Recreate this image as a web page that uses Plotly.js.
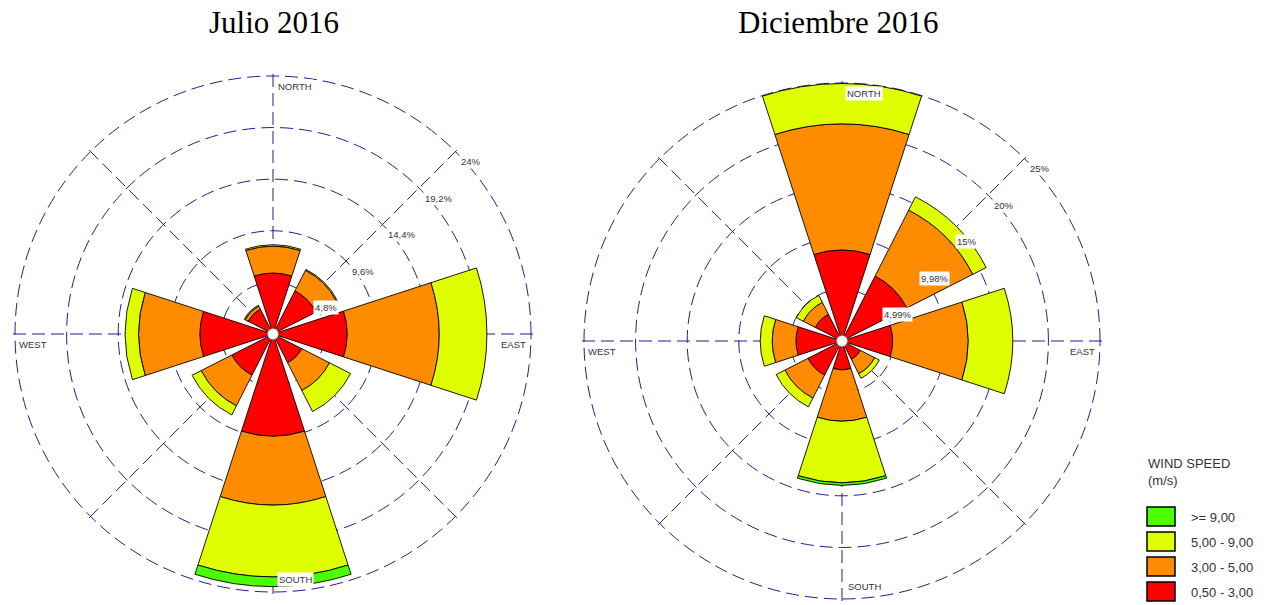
<!DOCTYPE html>
<html>
<head>
<meta charset="utf-8">
<script src="https://cdn.plot.ly/plotly-3.0.1.min.js"></script>
<style>html,body{margin:0;padding:0;background:#fff;}#chart{width:1267px;height:605px;}</style>
</head>
<body>
<div id="chart"></div>
<script>
// ---------- DATA ----------
const directions = [0, 45, 90, 135, 180, 225, 270, 315];
const dirNames = ["N", "NE", "E", "SE", "S", "SW", "W", "NW"];
const binLabels = ["0,50 - 3,00", "3,00 - 5,00", "5,00 - 9,00", ">= 9,00"];
const binColors = ["#FF0000", "#FF8C00", "#DFFF00", "#4CFF00"];

// Julio 2016 (% frequency per direction, per speed bin)
const julioRed    = [5.67, 4.50, 6.90, 3.00, 9.50, 4.30, 6.80, 2.60];
const julioOrange = [2.50, 2.15, 8.55, 2.90, 6.40, 3.20, 5.70, 0.30];
const julioYellow = [0.13, 0.10, 4.45, 2.20, 6.70, 0.95, 1.25, 0.10];
const julioGreen  = [0, 0, 0, 0, 0.90, 0, 0, 0];

// Diciembre 2016
const dicRed    = [8.80, 7.05, 4.90, 2.00, 2.80, 3.70, 4.45, 2.90];
const dicOrange = [12.20, 7.15, 7.30, 1.55, 4.95, 2.50, 2.30, 1.30];
const dicYellow = [3.90, 1.45, 4.30, 0.50, 5.95, 0.95, 1.15, 0.75];
const dicGreen  = [0, 0, 0, 0, 0.25, 0, 0, 0];

const julioRings = [4.8, 9.6, 14.4, 19.2, 24];
const julioRingLabels = ["4,8%", "9,6%", "14,4%", "19,2%", "24%"];
const dicRings = [4.99, 9.98, 14.97, 19.96, 24.95];
const dicRingLabels = ["4,99%", "9,98%", "15%", "20%", "25%"];

const chartTitles = ["Julio 2016", "Diciembre 2016"];
const compassLabels = ["NORTH", "EAST", "SOUTH", "WEST"];
const legendTitle = "WIND SPEED<br>(m/s)";

// ---------- LAYOUT GEOMETRY ----------
const W = 1267, H = 605;
const geo = [
  {cx: 273, cy: 334, R: 258, titleX: 274},
  {cx: 842, cy: 341, R: 258, titleX: 838}
];
const pad = 1.012; // radial range beyond outermost ring so its grid circle is drawn
const px2x = p => p / W;
const py2y = p => 1 - p / H;

const series = [
  [julioRed, julioOrange, julioYellow, julioGreen],
  [dicRed, dicOrange, dicYellow, dicGreen]
];
const rings = [julioRings, dicRings];
const ringLabels = [julioRingLabels, dicRingLabels];

const gridColor = "#1f1f8f";
const textColor = "#333333";
const smallFont = {family: "Liberation Sans, Arial, sans-serif", size: 9.5, color: textColor};

const traces = [];
const annotations = [];
const shapes = [];
const layout = {
  width: W, height: H,
  margin: {l: 0, r: 0, t: 0, b: 0},
  paper_bgcolor: "#fff",
  showlegend: false,
  annotations: annotations,
  shapes: shapes
};

series.forEach((bins, i) => {
  const pid = i === 0 ? "polar" : "polar2";
  const g = geo[i];
  const rmax = rings[i][rings[i].length - 1];
  bins.forEach((vals, b) => {
    traces.push({
      type: "barpolar",
      subplot: pid,
      r: vals,
      theta: directions,
      width: directions.map(() => 36),
      name: binLabels[b],
      text: dirNames,
      marker: {color: binColors[b], line: {color: "#000", width: 0.9}},
      hoverinfo: "skip"
    });
  });
  // center white hub
  traces.push({
    type: "scatterpolar", subplot: pid, r: [0], theta: [0], mode: "markers",
    marker: {size: 11, color: "#fff", line: {color: "#777", width: 0.6}},
    hoverinfo: "skip", cliponaxis: false
  });

  const Rp = g.R * pad;
  layout[pid] = {
    domain: {x: [px2x(g.cx - Rp), px2x(g.cx + Rp)], y: [py2y(g.cy + Rp), py2y(g.cy - Rp)]},
    bgcolor: "rgba(0,0,0,0)",
    barmode: "stack",
    radialaxis: {
      range: [0, rmax * pad], tickvals: rings[i], showticklabels: false, ticks: "",
      showline: false, gridcolor: gridColor, gridwidth: 1, griddash: "13px,6px", layer: "below traces"
    },
    angularaxis: {
      rotation: 90, direction: "clockwise", tickvals: directions, showticklabels: false, ticks: "",
      showline: false, gridcolor: gridColor, gridwidth: 1, griddash: "13px,6px", layer: "below traces"
    }
  };

  // ring labels along NE
  rings[i].forEach((rv, k) => {
    const rr = rv / rmax * g.R;
    const a = Math.PI / 4;
    annotations.push({
      xref: "paper", yref: "paper", showarrow: false,
      x: px2x(g.cx + rr * Math.sin(a)), y: py2y(g.cy - rr * Math.cos(a)),
      xanchor: "left", yanchor: "middle",
      xshift: 4, yshift: -10, text: ringLabels[i][k], font: smallFont,
      bgcolor: "#fff", borderpad: 1
    });
  });
  // compass labels
  const cpos = [
    {x: g.cx, y: g.cy - g.R, xa: "left", ya: "top", xs: 3, ys: -3},
    {x: g.cx + g.R, y: g.cy, xa: "right", ya: "top", xs: -3, ys: -3},
    {x: g.cx, y: g.cy + g.R, xa: "left", ya: "bottom", xs: 4, ys: 5},
    {x: g.cx - g.R, y: g.cy, xa: "left", ya: "top", xs: 2, ys: -3}
  ];
  compassLabels.forEach((t, k) => {
    const c = cpos[k];
    annotations.push({
      xref: "paper", yref: "paper", showarrow: false,
      x: px2x(c.x), y: py2y(c.y), xanchor: c.xa, yanchor: c.ya, xshift: c.xs, yshift: c.ys,
      text: t, font: smallFont, bgcolor: "#fff", borderpad: 1
    });
  });
  // title
  annotations.push({
    xref: "paper", yref: "paper", showarrow: false,
    x: px2x(g.titleX), y: py2y(22), xanchor: "center", yanchor: "middle",
    text: chartTitles[i],
    font: {family: "Liberation Serif, Times New Roman, serif", size: 31, color: "#000"}
  });
});

// ---------- custom legend ----------
const legFont = {family: "Liberation Sans, Arial, sans-serif", size: 13, color: textColor};
annotations.push({
  xref: "paper", yref: "paper", showarrow: false, align: "left",
  x: px2x(1146), y: py2y(454), xanchor: "left", yanchor: "top",
  text: legendTitle, font: legFont
});
const legOrder = [3, 2, 1, 0];
legOrder.forEach((b, k) => {
  const top = 507 + k * 25;
  shapes.push({
    type: "rect", xref: "paper", yref: "paper",
    x0: px2x(1147), x1: px2x(1175), y0: py2y(top + 19), y1: py2y(top),
    fillcolor: binColors[b], line: {color: "#000", width: 1.5}
  });
  annotations.push({
    xref: "paper", yref: "paper", showarrow: false,
    x: px2x(1189), y: py2y(top + 10), xanchor: "left", yanchor: "middle",
    text: binLabels[b], font: legFont
  });
});

Plotly.newPlot("chart", traces, layout, {staticPlot: true, displayModeBar: false});
</script>
</body>
</html>
